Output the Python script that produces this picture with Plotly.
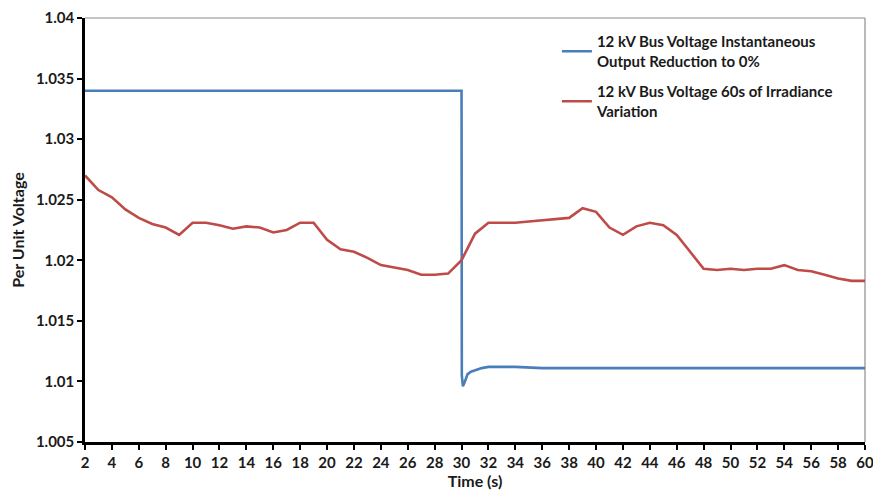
import plotly.graph_objects as go

# Red series: 60 s of irradiance variation (1 s resolution)
red_t = list(range(2, 61))
red_v = [1.0270, 1.0258, 1.0252, 1.0242, 1.0235, 1.0230, 1.0227, 1.0221, 1.0231, 1.0231,
         1.0229, 1.0226, 1.0228, 1.0227, 1.0223, 1.0225, 1.0231, 1.0231, 1.0217, 1.0209,
         1.0207, 1.0202, 1.0196, 1.0194, 1.0192, 1.0188, 1.0188, 1.0189, 1.0200, 1.0222,
         1.0231, 1.0231, 1.0231, 1.0232, 1.0233, 1.0234, 1.0235, 1.0243, 1.0240, 1.0227,
         1.0221, 1.0228, 1.0231, 1.0229, 1.0221, 1.0207, 1.0193, 1.0192, 1.0193, 1.0192,
         1.0193, 1.0193, 1.0196, 1.0192, 1.0191, 1.0188, 1.0185, 1.0183, 1.0183]

# Blue series: instantaneous output reduction to 0% at t = 30 s
blue_t = [2, 30.0, 30.02, 30.1, 30.25, 30.45, 30.7, 31, 31.5, 32, 33, 34, 36, 40, 50, 60]
blue_v = [1.0340, 1.0340, 1.0105, 1.0096, 1.0100, 1.0106, 1.0108, 1.0109, 1.0111, 1.0112,
          1.0112, 1.0112, 1.0111, 1.0111, 1.0111, 1.0111]

x_ticks = list(range(2, 61, 2))
y_ticks = [1.005, 1.01, 1.015, 1.02, 1.025, 1.03, 1.035, 1.04]
y_ticktext = ["1.005", "1.01", "1.015", "1.02", "1.025", "1.03", "1.035", "1.04"]

name_blue = "12 kV Bus Voltage Instantaneous<br>Output Reduction to 0%"
name_red = "12 kV Bus Voltage 60s of Irradiance<br>Variation"

font_fam = "Lato, 'Open Sans', sans-serif"

fig = go.Figure()
fig.add_trace(go.Scatter(x=blue_t, y=blue_v, mode="lines", name=name_blue, legendgroup="b",
                         line=dict(color="#4A7EBB", width=2.6)))
fig.add_trace(go.Scatter(x=red_t, y=red_v, mode="lines", name=name_red, legendgroup="r",
                         line=dict(color="#BE4B48", width=2.6)))

fig.update_layout(
    width=865, height=483,
    margin=dict(l=77, r=8, t=10, b=49, autoexpand=False),
    paper_bgcolor="white", plot_bgcolor="white",
    font=dict(family=font_fam, size=14, color="#1a1a1a"),
    legend=dict(x=0.605, y=0.983, xanchor="left", yanchor="top",
                bgcolor="rgba(0,0,0,0)", font=dict(size=15, family=font_fam, weight="bold"),
                itemwidth=30, tracegroupgap=8),
    shapes=[
        dict(type="line", xref="paper", yref="paper", x0=0, x1=1, y0=1, y1=1,
             line=dict(color="#8c8c8c", width=1.2), layer="below"),
        dict(type="line", xref="paper", yref="paper", x0=1, x1=1, y0=0, y1=1,
             line=dict(color="#8c8c8c", width=1.2), layer="below"),
    ],
)
fig.update_xaxes(range=[2, 60], tickvals=x_ticks, showgrid=False, zeroline=False,
                 showline=True, linecolor="black", linewidth=2.5,
                 ticks="outside", ticklen=5, tickwidth=2, tickcolor="black",
                 ticklabeloverflow="allow",
                 tickfont=dict(size=15, family=font_fam, weight="bold"),
                 title=dict(text="Time (s)", font=dict(size=16, family=font_fam, weight="bold"),
                            standoff=6))
fig.update_yaxes(range=[1.005, 1.04], tickvals=y_ticks, ticktext=y_ticktext, showgrid=False,
                 zeroline=False, showline=True, linecolor="black", linewidth=2.5,
                 ticks="outside", ticklen=5, tickwidth=2, tickcolor="black",
                 tickfont=dict(size=15, family=font_fam, weight="bold"),
                 title=dict(text="Per Unit Voltage", font=dict(size=16, family=font_fam, weight="bold"),
                            standoff=8))

fig.write_html("out.html")
